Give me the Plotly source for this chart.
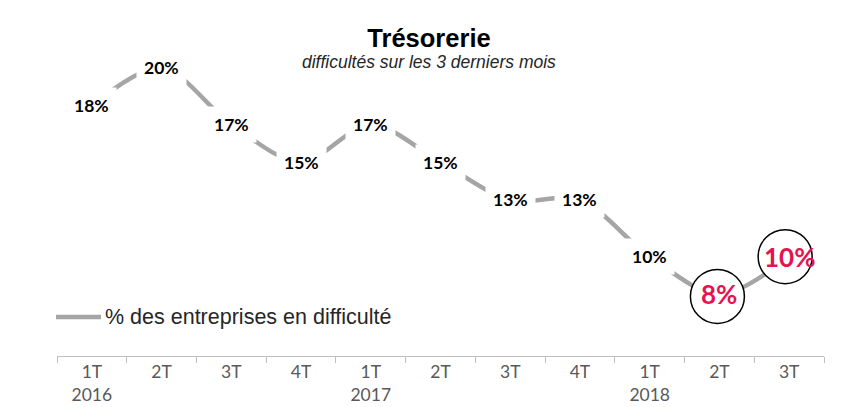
import plotly.graph_objects as go

quarters = ["1T", "2T", "3T", "4T", "1T", "2T", "3T", "4T", "1T", "2T", "3T"]
years = ["2016", "", "", "", "2017", "", "", "", "2018", "", ""]
values = [18, 20, 17, 15, 17, 15, 13, 13, 10, 8, 10]
highlight = [False, False, False, False, False, False, False, False, False, True, True]
series_name = "% des entreprises en difficulté"
title = "Trésorerie"
subtitle = "difficultés sur les 3 derniers mois"

x_idx = list(range(len(values)))
ticktext = [q + ("<br>" + y if y else "") for q, y in zip(quarters, years)]

LINE = "#A5A5A5"
RED = "#E5134F"

# plot area in pixels
L, R, T, B = 57, 824, 30, 356
W, H = R - L, B - T

def px(xp):
    return (xp - L) / W

def py(yp):
    return (B - yp) / H

fig = go.Figure()
fig.add_trace(go.Scatter(
    x=x_idx, y=values, mode="lines", name=series_name,
    line=dict(color=LINE, width=4.5, shape="spline", smoothing=0.9),
    hoverinfo="skip", showlegend=False,
))

annotations = []
shapes = []
for i, (v, h) in enumerate(zip(values, highlight)):
    if h:
        shapes.append(dict(
            type="circle", xref="x", yref="y", xsizemode="pixel", ysizemode="pixel",
            xanchor=i, yanchor=v,
            x0=-31 if v >= 10 else -29, x1=23 if v >= 10 else 25,
            y0=-27 if v >= 10 else -29, y1=27 if v >= 10 else 25,
            line=dict(color="black", width=1.5), fillcolor="white", layer="above",
        ))
        annotations.append(dict(
            x=i, y=v, xref="x", yref="y", text="<b>%d%%</b>" % v, showarrow=False,
            font=dict(family="Lato, sans-serif", size=26, color=RED),
        ))
    else:
        annotations.append(dict(
            x=i, y=v, xref="x", yref="y", text="<b>%d%%</b>" % v, showarrow=False,
            font=dict(family="Lato, sans-serif", size=17.5, color="black"),
            bgcolor="white", borderpad=7,
        ))

# subtitle
annotations.append(dict(
    x=px(429), y=py(62), xref="paper", yref="paper", text="<i>" + subtitle + "</i>",
    showarrow=False, font=dict(family="Liberation Sans, Arial, sans-serif", size=17.5, color="#262626"),
    xanchor="center", yanchor="middle",
))
# legend (drawn manually to match the long legend line)
shapes.append(dict(type="line", xref="paper", yref="paper",
                   x0=px(56), x1=px(101), y0=py(317), y1=py(317),
                   line=dict(color=LINE, width=4.5)))
annotations.append(dict(
    x=px(103), y=py(317), xref="paper", yref="paper", text=series_name,
    showarrow=False, xanchor="left", yanchor="middle",
    font=dict(family="Liberation Sans, Arial, sans-serif", size=21.5, color="#262626"),
))

fig.update_layout(
    width=848, height=407,
    margin=dict(l=L, r=848 - R, t=T, b=407 - B),
    paper_bgcolor="white", plot_bgcolor="white",
    title=dict(text="<b>" + title + "</b>", x=429 / 848, xanchor="center",
               y=1 - 38 / 407, yanchor="middle",
               font=dict(family="Liberation Sans, Arial, sans-serif", size=25.5, color="black")),
    xaxis=dict(
        range=[-0.5, len(values) - 0.5], tickmode="array", tickvals=x_idx, ticktext=ticktext,
        ticks="", showgrid=False, zeroline=False, showline=True, linecolor="#BFBFBF", linewidth=1,
        tickfont=dict(family="Lato, sans-serif", size=17.5, color="#595959"),
        minor=dict(tickmode="linear", tick0=-0.5, dtick=1, ticks="outside", ticklen=6,
                   tickcolor="#BFBFBF", showgrid=False),
        fixedrange=True, automargin=False,
    ),
    yaxis=dict(range=[4.74, 22.0], visible=False, fixedrange=True),
    showlegend=False,
    annotations=annotations,
    shapes=shapes,
)

fig.write_html("out.html", config={"displayModeBar": False},
               post_script="document.body.style.margin='0';")
